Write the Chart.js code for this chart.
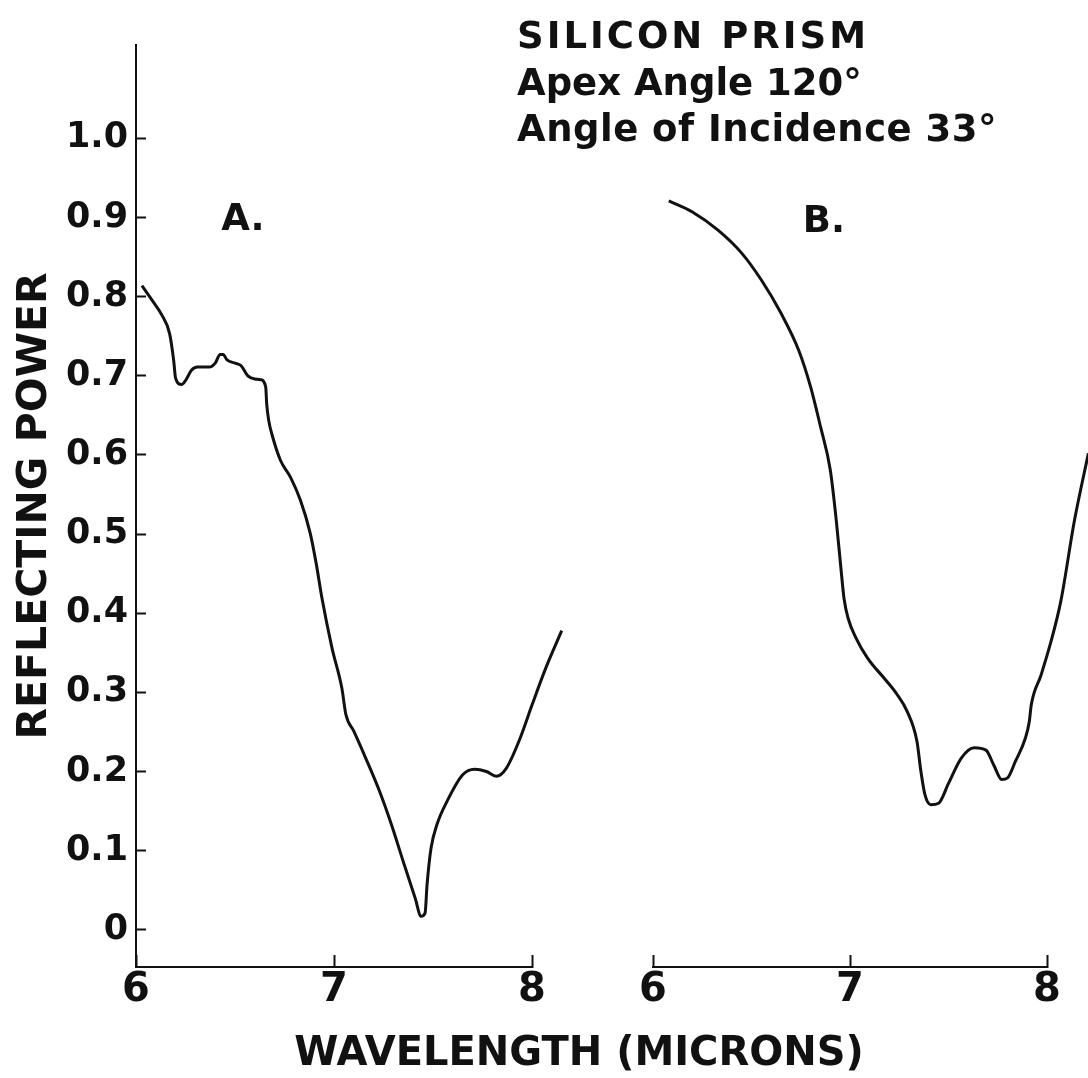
<!DOCTYPE html>
<html>
<head>
<meta charset="utf-8">
<script src="https://cdn.jsdelivr.net/npm/chart.js@4.4.1/dist/chart.umd.min.js"></script>
<style>
  body { margin: 0; background: #fff; }
  #wrap { position: relative; width: 1088px; height: 1078px; }
  #wrap canvas { position: absolute; left: 0; top: 0; }
</style>
</head>
<body>
<div id="wrap">
  <canvas id="chart-a" width="1088" height="1078"></canvas>
  <canvas id="chart-b" width="1088" height="1078"></canvas>
</div>
<script>
// curve A (wavelength in microns, reflecting power)
const waveA = [6.03, 6.08, 6.13, 6.17, 6.19, 6.20, 6.23, 6.25, 6.28, 6.31, 6.37, 6.40, 6.425, 6.44,
  6.46, 6.50, 6.53, 6.565, 6.60, 6.63, 6.655, 6.66, 6.67, 6.69, 6.73, 6.78, 6.83, 6.88, 6.91, 6.94,
  6.99, 7.04, 7.06, 7.10, 7.16, 7.23, 7.29, 7.35, 7.41, 7.44, 7.46, 7.47, 7.49, 7.52, 7.57, 7.65,
  7.71, 7.77, 7.82, 7.87, 7.94, 8.00, 8.07, 8.15];
const reflA = [0.814, 0.796, 0.777, 0.753, 0.720, 0.697, 0.689, 0.694, 0.707, 0.711, 0.711, 0.716, 0.727, 0.727,
  0.720, 0.716, 0.713, 0.700, 0.696, 0.695, 0.686, 0.665, 0.644, 0.623, 0.593, 0.572, 0.543, 0.501, 0.463, 0.418,
  0.356, 0.305, 0.272, 0.251, 0.217, 0.175, 0.133, 0.086, 0.040, 0.017, 0.021, 0.057, 0.103, 0.133, 0.162, 0.196,
  0.203, 0.200, 0.194, 0.204, 0.242, 0.284, 0.331, 0.378];

// curve B
const waveB = [6.08, 6.20, 6.33, 6.45, 6.55, 6.65, 6.74, 6.80, 6.85, 6.90, 6.93, 6.955, 6.97, 6.99,
  7.03, 7.09, 7.18, 7.24, 7.29, 7.34, 7.36, 7.38, 7.41, 7.45, 7.50, 7.565, 7.63, 7.69, 7.73, 7.77,
  7.80, 7.84, 7.89, 7.91, 7.92, 7.97, 8.02, 8.07, 8.14, 8.21];
const reflB = [0.921, 0.907, 0.884, 0.855, 0.821, 0.779, 0.732, 0.686, 0.636, 0.581, 0.518, 0.454, 0.418, 0.394,
  0.369, 0.343, 0.316, 0.297, 0.276, 0.238, 0.200, 0.171, 0.158, 0.160, 0.185, 0.217, 0.230, 0.227, 0.208, 0.190,
  0.192, 0.213, 0.242, 0.263, 0.284, 0.322, 0.364, 0.415, 0.518, 0.602];

const xTicks = [6, 7, 8];
const yTicks = [0, 0.1, 0.2, 0.3, 0.4, 0.5, 0.6, 0.7, 0.8, 0.9, 1.0];
const yTickLabels = ['0', '0.1', '0.2', '0.3', '0.4', '0.5', '0.6', '0.7', '0.8', '0.9', '1.0'];
const notes = ['SILICON PRISM', 'Apex Angle 120°', 'Angle of Incidence 33°'];
const xTitle = 'WAVELENGTH (MICRONS)';
const yTitle = 'REFLECTING POWER';

const family = 'DejaVu Sans';
const ink = '#111';

function points(xs, ys) {
  return xs.map((x, i) => ({ x: x, y: ys[i] }));
}

function curve(xs, ys) {
  return {
    data: points(xs, ys),
    borderColor: ink,
    borderWidth: 3,
    pointRadius: 0,
    fill: false,
    clip: false,
    cubicInterpolationMode: 'monotone'
  };
}

// "A." / "B." placed in data coordinates of each panel
function panelLabel(text, x, y) {
  return {
    id: 'panelLabel',
    afterDraw(chart) {
      const ctx = chart.ctx;
      ctx.save();
      ctx.fillStyle = ink;
      ctx.font = 'bold 37px "' + family + '"';
      ctx.textBaseline = 'alphabetic';
      ctx.fillText(text, chart.scales.x.getPixelForValue(x), chart.scales.y.getPixelForValue(y));
      ctx.restore();
    }
  };
}

const noteSpacing = ['3px', '0px', '0.5px'];

const captions = {
  id: 'captions',
  afterDraw(chart) {
    const ctx = chart.ctx;
    ctx.save();
    ctx.fillStyle = ink;
    ctx.textBaseline = 'alphabetic';
    ctx.textAlign = 'left';
    ctx.font = 'bold 37px "' + family + '"';
    notes.forEach((t, i) => {
      ctx.letterSpacing = noteSpacing[i];
      ctx.fillText(t, 517, 48 + i * 46.5);
    });
    ctx.letterSpacing = '0px';
    ctx.textAlign = 'center';
    ctx.font = 'bold 40px "' + family + '"';
    ctx.fillText(xTitle, 579, 1065);
    ctx.restore();
  }
};

function xAxis() {
  return {
    type: 'linear',
    bounds: 'data',
    // range set here (not min/max) so the curve may run past 8 like the original
    afterDataLimits: s => { s.min = 6; s.max = 8; },
    afterBuildTicks: s => { s.ticks = xTicks.map(v => ({ value: v })); },
    afterFit: s => { s.height = 111; },
    border: { color: ink, width: 2 },
    grid: { drawOnChartArea: false, tickLength: -12, tickWidth: 2, tickColor: ink },
    ticks: {
      color: ink,
      padding: 16,
      maxRotation: 0,
      autoSkip: false,
      font: { family: family, weight: 'bold', size: 40, lineHeight: 1 },
      callback: v => String(v)
    }
  };
}

function yAxis(show) {
  return {
    display: show,
    min: -0.047,
    max: 1.118,
    afterBuildTicks: s => { s.ticks = yTicks.map(v => ({ value: v })); },
    afterFit: s => { s.width = show ? 136 : 0; },
    border: { color: ink, width: 2 },
    grid: { drawOnChartArea: false, tickLength: -10, tickWidth: 2, tickColor: ink },
    title: {
      display: true,
      text: yTitle,
      color: ink,
      padding: { top: 15, bottom: 0 },
      font: { family: family, weight: 'bold', size: 41, lineHeight: 1 }
    },
    ticks: {
      color: ink,
      padding: 18,
      autoSkip: false,
      font: { family: family, weight: 'bold', size: 35, lineHeight: 1 },
      callback: (v, i) => yTickLabels[i]
    }
  };
}

function baseOptions(padding, showY) {
  return {
    responsive: false,
    animation: false,
    layout: { padding: padding },
    plugins: { legend: { display: false }, tooltip: { enabled: false } },
    scales: { x: xAxis(), y: yAxis(showY) }
  };
}

new Chart(document.getElementById('chart-a'), {
  type: 'line',
  data: { datasets: [curve(waveA, reflA)] },
  options: baseOptions({ left: 0, top: 45, right: 1088 - 532, bottom: 0 }, true),
  plugins: [panelLabel('A.', 6.43, 0.884)]
});

new Chart(document.getElementById('chart-b'), {
  type: 'line',
  data: { datasets: [curve(waveB, reflB)] },
  options: baseOptions({ left: 653, top: 45, right: 1088 - 1047, bottom: 0 }, false),
  plugins: [panelLabel('B.', 6.76, 0.882), captions]
});
</script>
</body>
</html>
